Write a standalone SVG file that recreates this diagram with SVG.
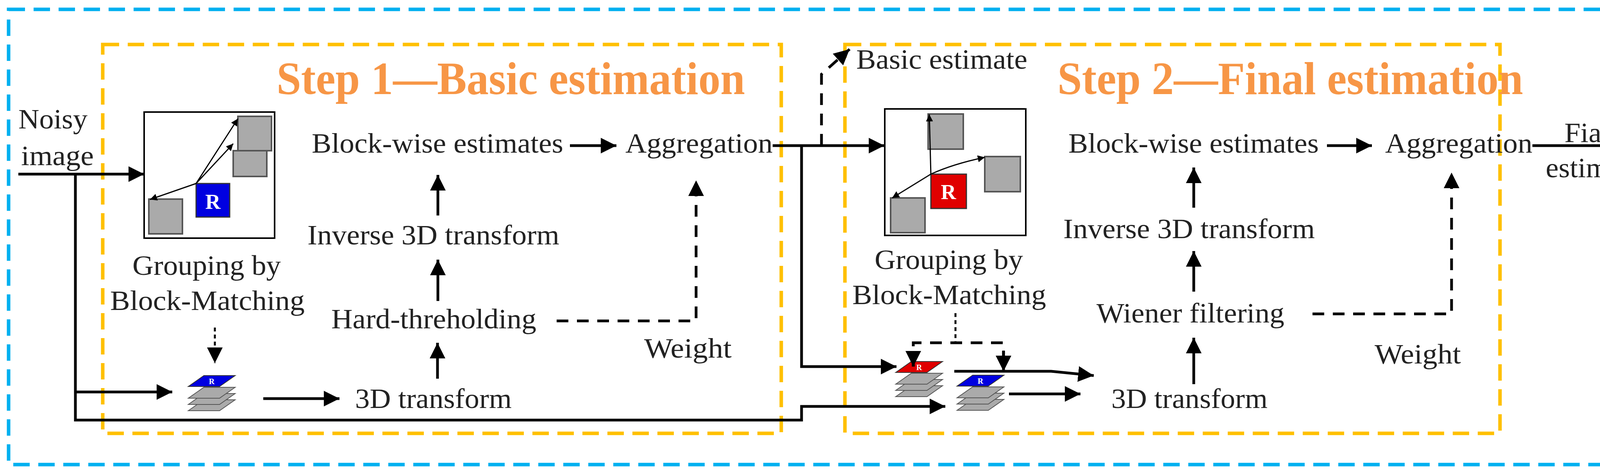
<svg xmlns="http://www.w3.org/2000/svg" width="4255" height="1209" viewBox="0 0 4255 1209">
<style>
.t{font-family:"Liberation Serif","Times New Roman",serif;font-size:72px;fill:#222}
.title{font-family:"Liberation Serif",serif;font-weight:bold;font-size:118px;fill:#F79646}
.ln{fill:none;stroke:#000;stroke-width:7}
.dash{fill:none;stroke:#000;stroke-width:7;stroke-dasharray:30 22}
.dot{fill:none;stroke:#000;stroke-width:5;stroke-dasharray:10 8}
.thin{fill:none;stroke:#000;stroke-width:3}
.gray{fill:#aaa;stroke:#555;stroke-width:4}
</style>
<defs>
<marker id="ah" markerWidth="10" markerHeight="10" refX="9" refY="5" orient="auto" markerUnits="userSpaceOnUse" viewBox="0 0 10 10" style="overflow:visible">
<path d="M0,0 L10,5 L0,10 z" fill="#000" transform="scale(4) translate(-5,-5) translate(5,5)"/>
</marker>
<marker id="a" viewBox="0 0 10 10" refX="10" refY="5" markerWidth="40" markerHeight="40" markerUnits="userSpaceOnUse" orient="auto"><path d="M0,0 L10,5 L0,10 z" fill="#000"/></marker>
<marker id="as" viewBox="0 0 10 10" refX="10" refY="5" markerWidth="18" markerHeight="18" markerUnits="userSpaceOnUse" orient="auto"><path d="M0,0 L10,5 L0,10 z" fill="#000"/></marker>
<g id="stk">
<polygon points="0,78 40,50 120,50 80,78" fill="#aaa" stroke="#555" stroke-width="2"/>
<polygon points="0,62 40,34 120,34 80,62" fill="#aaa" stroke="#555" stroke-width="2"/>
<polygon points="0,46 40,18 120,18 80,46" fill="#aaa" stroke="#555" stroke-width="2"/>
</g>
</defs>
<rect x="22" y="24" width="4212" height="1166" fill="none" stroke="#00B0F0" stroke-width="9" stroke-dasharray="42 22"/>
<rect x="263" y="114" width="1737" height="996" fill="none" stroke="#FFC000" stroke-width="9" stroke-dasharray="42 22"/>
<rect x="2163" y="114" width="1677" height="996" fill="none" stroke="#FFC000" stroke-width="9" stroke-dasharray="42 22"/>
<text class="title" x="708" y="241" textLength="1199" lengthAdjust="spacingAndGlyphs">Step 1—Basic estimation</text>
<text class="title" x="2707" y="241" textLength="1192" lengthAdjust="spacingAndGlyphs">Step 2—Final estimation</text>

<g id="noisy"><text class="t" x="47" y="329" textLength="177" lengthAdjust="spacingAndGlyphs">Noisy</text><text class="t" x="54" y="423" textLength="186" lengthAdjust="spacingAndGlyphs">image</text></g>

<g id="group1">
<rect x="369" y="287" width="334" height="323" fill="#fff" stroke="#000" stroke-width="4"/>
<rect x="597" y="386" width="86" height="66" class="gray"/>
<rect x="609" y="298" width="86" height="88" class="gray"/>
<rect x="381" y="510" width="86" height="89" class="gray"/>
<rect x="502" y="470" width="86" height="86" fill="#0000E0" stroke="#333" stroke-width="3"/>
<text x="545" y="535" text-anchor="middle" font-family="Liberation Serif,serif" font-weight="bold" font-size="54" fill="#fff">R</text>
<line x1="502" y1="470" x2="609" y2="304" class="thin" marker-end="url(#as)"/>
<line x1="502" y1="470" x2="597" y2="368" class="thin" marker-end="url(#as)"/>
<line x1="502" y1="470" x2="384" y2="511" class="thin" marker-end="url(#as)"/>
<text class="t" x="529" y="704" text-anchor="middle" textLength="380" lengthAdjust="spacingAndGlyphs">Grouping by</text>
<text class="t" x="282" y="794" textLength="498" lengthAdjust="spacingAndGlyphs">Block-Matching</text>
</g>
<g id="stack1">
<use href="#stk" x="482" y="974"/>
<polygon points="482,990 522,962 602,962 562,990" fill="#0000E0" stroke="#333" stroke-width="2"/>
<text x="542" y="984" text-anchor="middle" font-family="Liberation Serif,serif" font-weight="bold" font-size="20" fill="#fff">R</text>
</g>
<g id="s1text">
<text class="t" x="909" y="1045" textLength="401" lengthAdjust="spacingAndGlyphs">3D transform</text>
<text class="t" x="848" y="841" textLength="525" lengthAdjust="spacingAndGlyphs">Hard-threholding</text>
<text class="t" x="787" y="626" textLength="645" lengthAdjust="spacingAndGlyphs">Inverse 3D transform</text>
<text class="t" x="798" y="391" textLength="644" lengthAdjust="spacingAndGlyphs">Block-wise estimates</text>
<text class="t" x="1601" y="391" textLength="377" lengthAdjust="spacingAndGlyphs">Aggregation</text>
<text class="t" x="1649" y="916" textLength="224" lengthAdjust="spacingAndGlyphs">Weight</text>
</g>

<g id="group2">
<rect x="2265" y="279" width="361" height="324" fill="#fff" stroke="#000" stroke-width="4"/>
<rect x="2376" y="292" width="90" height="90" class="gray"/>
<rect x="2521" y="401" width="91" height="90" class="gray"/>
<rect x="2280" y="507" width="88" height="89" class="gray"/>
<rect x="2383" y="446" width="91" height="88" fill="#E00000" stroke="#333" stroke-width="3"/>
<text x="2428" y="510" text-anchor="middle" font-family="Liberation Serif,serif" font-weight="bold" font-size="54" fill="#fff">R</text>
<line x1="2383" y1="446" x2="2379" y2="293" class="thin" marker-end="url(#as)"/>
<path d="M2383,446 Q2440,420 2521,403" class="thin" marker-end="url(#as)"/>
<line x1="2383" y1="446" x2="2284" y2="507" class="thin" marker-end="url(#as)"/>
<text class="t" x="2429" y="689" text-anchor="middle" textLength="380" lengthAdjust="spacingAndGlyphs">Grouping by</text>
<text class="t" x="2182" y="779" textLength="496" lengthAdjust="spacingAndGlyphs">Block-Matching</text>
</g>
<g id="stack2r">
<use href="#stk" x="2293" y="938"/>
<polygon points="2293,954 2333,926 2413,926 2373,954" fill="#E00000" stroke="#333" stroke-width="2"/>
<text x="2353" y="948" text-anchor="middle" font-family="Liberation Serif,serif" font-weight="bold" font-size="20" fill="#fff">R</text>
</g>
<g id="stack2b">
<use href="#stk" x="2450" y="973"/>
<polygon points="2450,989 2490,961 2570,961 2530,989" fill="#0000E0" stroke="#333" stroke-width="2"/>
<text x="2510" y="983" text-anchor="middle" font-family="Liberation Serif,serif" font-weight="bold" font-size="20" fill="#fff">R</text>
</g>
<g id="s2text">
<text class="t" x="2192" y="176" textLength="438" lengthAdjust="spacingAndGlyphs">Basic estimate</text>
<text class="t" x="2845" y="1045" textLength="400" lengthAdjust="spacingAndGlyphs">3D transform</text>
<text class="t" x="2807" y="826" textLength="481" lengthAdjust="spacingAndGlyphs">Wiener filtering</text>
<text class="t" x="2722" y="610" textLength="644" lengthAdjust="spacingAndGlyphs">Inverse 3D transform</text>
<text class="t" x="2735" y="391" textLength="641" lengthAdjust="spacingAndGlyphs">Block-wise estimates</text>
<text class="t" x="3546" y="391" textLength="377" lengthAdjust="spacingAndGlyphs">Aggregation</text>
<text class="t" x="3519" y="931" textLength="221" lengthAdjust="spacingAndGlyphs">Weight</text>
<text class="t" x="4005" y="364" textLength="152" lengthAdjust="spacingAndGlyphs">Fianl</text>
<text class="t" x="3957" y="454" textLength="247" lengthAdjust="spacingAndGlyphs">estimate</text>
</g>

<g id="connectors">
<line x1="47" y1="446" x2="369" y2="446" class="ln" marker-end="url(#a)"/>
<polyline points="193,446 193,1076 2052,1076 2052,1041 2420,1041" class="ln" marker-end="url(#a)"/>
<line x1="193" y1="1004" x2="441" y2="1004" class="ln" marker-end="url(#a)"/>
<line x1="550" y1="839" x2="550" y2="930" class="dot" marker-end="url(#a)"/>
<line x1="674" y1="1021" x2="869" y2="1021" class="ln" marker-end="url(#a)"/>
<line x1="1120" y1="970" x2="1120" y2="878" class="ln" marker-end="url(#a)"/>
<line x1="1121" y1="771" x2="1121" y2="665" class="ln" marker-end="url(#a)"/>
<line x1="1121" y1="552" x2="1121" y2="448" class="ln" marker-end="url(#a)"/>
<line x1="1459" y1="373" x2="1578" y2="373" class="ln" marker-end="url(#a)"/>
<polyline points="1425,822 1782,822 1782,462" class="dash" marker-end="url(#a)"/>
<line x1="1978" y1="373" x2="2264" y2="373" class="ln" marker-end="url(#a)"/>
<polyline points="2052,373 2052,939 2295,939" class="ln" marker-end="url(#a)"/>
<polyline points="2103,373 2103,190 2175,126" class="dash" marker-end="url(#a)"/>
<polyline points="2446,802 2446,878" class="dot"/>
<polyline points="2338,939 2338,878 2569,878 2569,939" class="dash"/>
<line x1="2338" y1="900" x2="2338" y2="939" class="ln" marker-end="url(#a)"/>
<line x1="2569" y1="900" x2="2569" y2="951" class="ln" marker-end="url(#a)"/>
<polyline points="2443,951 2691,951 2800,962" class="ln" marker-end="url(#a)"/>
<line x1="2583" y1="1009" x2="2766" y2="1009" class="ln" marker-end="url(#a)"/>
<line x1="3056" y1="984" x2="3056" y2="865" class="ln" marker-end="url(#a)"/>
<line x1="3056" y1="747" x2="3056" y2="643" class="ln" marker-end="url(#a)"/>
<line x1="3056" y1="532" x2="3056" y2="429" class="ln" marker-end="url(#a)"/>
<line x1="3397" y1="373" x2="3512" y2="373" class="ln" marker-end="url(#a)"/>
<line x1="3923" y1="373" x2="4191" y2="373" class="ln" marker-end="url(#a)"/>
<polyline points="3360,804 3716,804 3716,442" class="dash" marker-end="url(#a)"/>
</g>
</svg>
